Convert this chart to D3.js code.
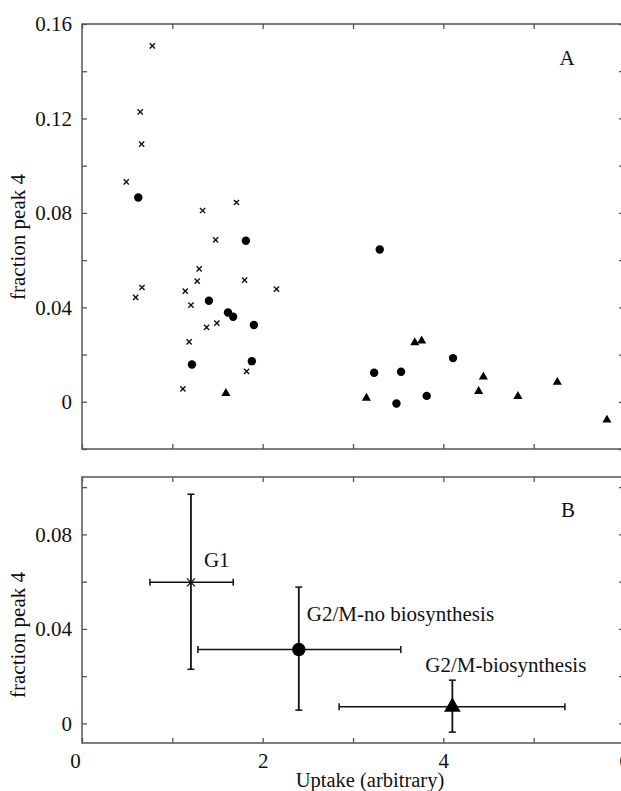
<!DOCTYPE html>
<html>
<head>
<meta charset="utf-8">
<script src="https://cdn.jsdelivr.net/npm/d3@7"></script>
<style>
  body { margin: 0; background: #fff; }
  text { font-family: "Liberation Serif", "Times New Roman", serif; fill: #111; }
</style>
</head>
<body>
<div id="chart"></div>
<script>
// panel A: individual cells
const crossUptake   = [0.779, 0.645, 0.66, 0.49, 1.335, 1.71, 1.479, 1.297, 1.275, 1.8, 0.664, 0.594, 1.143, 2.153, 1.206, 1.493, 1.379, 1.186, 1.822, 1.117]
const crossFraction = [0.1507, 0.1228, 0.1091, 0.0931, 0.081, 0.0844, 0.0686, 0.0563, 0.0511, 0.0515, 0.0484, 0.0442, 0.0469, 0.0477, 0.0409, 0.0333, 0.0315, 0.0254, 0.0129, 0.0055]

const circleUptake   = [0.623, 1.814, 1.405, 1.616, 1.673, 1.903, 1.217, 1.88, 3.296, 3.234, 3.532, 3.481, 3.816, 4.107]
const circleFraction = [0.0865, 0.0682, 0.0428, 0.0378, 0.036, 0.0325, 0.0158, 0.0172, 0.0645, 0.0123, 0.0127, -0.0007, 0.0025, 0.0185]

const triUptake   = [1.593, 3.149, 3.684, 3.76, 4.443, 4.391, 4.826, 5.262, 5.811]
const triFraction = [0.0036, 0.0016, 0.0251, 0.0258, 0.0106, 0.0044, 0.0023, 0.0083, -0.0077]

// panel B: group means with ranges
const groups       = ["G1", "G2/M-no biosynthesis", "G2/M-biosynthesis"]
const groupMarker  = ["cross", "circle", "triangle"]
const meanUptake   = [1.206, 2.4, 4.1]
const uptakeLow    = [0.752, 1.283, 2.846]
const uptakeHigh   = [1.674, 3.529, 5.346]
const meanFraction = [0.0597, 0.0313, 0.007]
const fractionLow  = [0.0229, 0.0056, -0.0037]
const fractionHigh = [0.097, 0.0577, 0.0183]

const xTicks = [0, 1, 2, 3, 4, 5, 6]
const xTickLabels = ["0", "", "2", "", "4", "", "6"]
const yTicksA = [-0.02, 0, 0.02, 0.04, 0.06, 0.08, 0.10, 0.12, 0.14, 0.16]
const yTicksB = [0, 0.02, 0.04, 0.06, 0.08, 0.10]
const yLabelled = [0, 0.04, 0.08, 0.12, 0.16]

const width = 621, height = 791
const left = 82, right = 624
const frameColor = "#555"

const svg = d3.select("#chart").append("svg")
    .attr("width", width)
    .attr("height", height)

const x = d3.scaleLinear().domain([0, 6]).range([left, right])
const yA = d3.scaleLinear().domain([-0.02, 0.16]).range([449, 24])
const yB = d3.scaleLinear().domain([-0.0083, 0.1043]).range([743, 477])

const fmtY = d => {
    let hit = yLabelled.some(v => Math.abs(v - d) < 1e-9)
    if (!hit) return ""
    return Math.abs(d) < 1e-9 ? "0" : d.toFixed(2)
}

function frame(y, yTicks, showX) {
    let top = y.range()[1], bottom = y.range()[0]
    let g = svg.append("g")

    let styleAxis = sel => {
        sel.select(".domain").remove()
        sel.selectAll(".tick line").attr("stroke", frameColor).attr("stroke-width", 1.3)
        sel.selectAll("text").style("font-size", "21px").attr("fill", "#111")
            .style("font-family", "'Liberation Serif', serif")
    }

    g.append("g").attr("transform", `translate(0,${bottom})`)
        .call(d3.axisBottom(x).tickValues(xTicks).tickSizeInner(-5).tickSizeOuter(0).tickPadding(10)
            .tickFormat((d, i) => showX ? xTickLabels[i] : ""))
        .call(styleAxis)
        .call(s => s.selectAll("text").filter(d => d === 0).attr("dx", -7))
    g.append("g").attr("transform", `translate(0,${top})`)
        .call(d3.axisTop(x).tickValues(xTicks).tickSizeInner(-5).tickSizeOuter(0).tickFormat(""))
        .call(styleAxis)
    g.append("g").attr("transform", `translate(${left},0)`)
        .call(d3.axisLeft(y).tickValues(yTicks).tickSizeInner(-5).tickSizeOuter(0).tickPadding(10).tickFormat(fmtY))
        .call(styleAxis)
    g.append("g").attr("transform", `translate(${right},0)`)
        .call(d3.axisRight(y).tickValues(yTicks).tickSizeInner(-5).tickSizeOuter(0).tickFormat(""))
        .call(styleAxis)

    g.append("rect")
        .attr("x", left).attr("y", top)
        .attr("width", right - left).attr("height", bottom - top)
        .attr("fill", "none").attr("stroke", frameColor).attr("stroke-width", 1.5)
}

frame(yA, yTicksA, false)
frame(yB, yTicksB, true)

const crossPath = s => `M${-s},${-s}L${s},${s}M${-s},${s}L${s},${-s}`

// panel A marks
svg.append("g").selectAll("path")
    .data(crossUptake.map((u, i) => ({ u: u, f: crossFraction[i] })))
    .enter().append("path")
    .attr("transform", d => `translate(${x(d.u)},${yA(d.f)})`)
    .attr("d", crossPath(2.6))
    .attr("stroke", "#111").attr("stroke-width", 1.4)

svg.append("g").selectAll("circle")
    .data(circleUptake.map((u, i) => ({ u: u, f: circleFraction[i] })))
    .enter().append("circle")
    .attr("cx", d => x(d.u))
    .attr("cy", d => yA(d.f))
    .attr("r", 4.2)
    .attr("fill", "#000")

svg.append("g").selectAll("path")
    .data(triUptake.map((u, i) => ({ u: u, f: triFraction[i] })))
    .enter().append("path")
    .attr("transform", d => `translate(${x(d.u)},${yA(d.f)})`)
    .attr("d", d3.symbol().type(d3.symbolTriangle).size(36))
    .attr("fill", "#000")

svg.append("text").attr("x", 567).attr("y", 65)
    .attr("text-anchor", "middle").style("font-size", "21px").text("A")

// panel B marks
let summary = groups.map((g, i) => ({
    name: g, marker: groupMarker[i],
    u: meanUptake[i], uLo: uptakeLow[i], uHi: uptakeHigh[i],
    f: meanFraction[i], fLo: fractionLow[i], fHi: fractionHigh[i]
}))
const labelOffsets = [[13, -15], [8, -28], [-27, -35]]
const cap = 3.5

let bars = svg.append("g").attr("stroke", "#111").attr("stroke-width", 1.5)
summary.forEach(d => {
    let cx = x(d.u), cy = yB(d.f)
    bars.append("line").attr("x1", x(d.uLo)).attr("x2", x(d.uHi)).attr("y1", cy).attr("y2", cy)
    bars.append("line").attr("x1", x(d.uLo)).attr("x2", x(d.uLo)).attr("y1", cy - cap).attr("y2", cy + cap)
    bars.append("line").attr("x1", x(d.uHi)).attr("x2", x(d.uHi)).attr("y1", cy - cap).attr("y2", cy + cap)
    bars.append("line").attr("x1", cx).attr("x2", cx).attr("y1", yB(d.fLo)).attr("y2", yB(d.fHi)).attr("stroke-width", 1.8)
    bars.append("line").attr("x1", cx - cap).attr("x2", cx + cap).attr("y1", yB(d.fHi)).attr("y2", yB(d.fHi))
    bars.append("line").attr("x1", cx - cap).attr("x2", cx + cap).attr("y1", yB(d.fLo)).attr("y2", yB(d.fLo))
})

svg.append("g").selectAll("path")
    .data(summary)
    .enter().append("path")
    .attr("transform", d => `translate(${x(d.u)},${yB(d.f)})`)
    .attr("d", d => {
        if (d.marker === "circle") return d3.symbol().type(d3.symbolCircle).size(140)()
        if (d.marker === "triangle") return d3.symbol().type(d3.symbolTriangle).size(120)()
        return crossPath(4)
    })
    .attr("fill", d => d.marker === "cross" ? "none" : "#000")
    .attr("stroke", "#111")
    .attr("stroke-width", d => d.marker === "cross" ? 1.3 : 0)

svg.append("g").selectAll("text")
    .data(summary)
    .enter().append("text")
    .attr("x", (d, i) => x(d.u) + labelOffsets[i][0])
    .attr("y", (d, i) => yB(d.f) + labelOffsets[i][1])
    .style("font-size", "21px")
    .text(d => d.name)

svg.append("text").attr("x", 568).attr("y", 517)
    .attr("text-anchor", "middle").style("font-size", "21px").text("B")

// axis titles
svg.append("text")
    .attr("transform", "translate(25,237) rotate(-90)")
    .attr("text-anchor", "middle").style("font-size", "21px")
    .text("fraction peak 4")
svg.append("text")
    .attr("transform", "translate(25,635) rotate(-90)")
    .attr("text-anchor", "middle").style("font-size", "21px")
    .text("fraction peak 4")
svg.append("text")
    .attr("x", 370).attr("y", 787)
    .attr("text-anchor", "middle").style("font-size", "20.5px")
    .text("Uptake (arbitrary)")
</script>
</body>
</html>
